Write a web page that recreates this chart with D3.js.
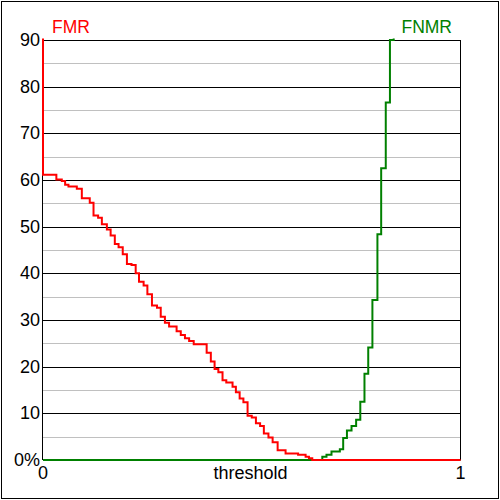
<!DOCTYPE html>
<html>
<head>
<meta charset="utf-8">
<script src="https://cdn.jsdelivr.net/npm/d3@7"></script>
<style>
body{margin:0;background:#fff;}
svg{display:block;font-family:Arial,"Liberation Sans",sans-serif;}
</style>
</head>
<body>
<svg id="chart" width="500" height="500"></svg>
<script>
// threshold / percent pairs
var fmr=[[0,100],[0,61.1],[0.032,60.1],[0.045,59.8],[0.053,59.0],[0.061,58.6],[0.081,58.1],
  [0.093,56.1],[0.112,55.1],[0.121,52.4],[0.132,51.9],[0.141,50.5],[0.153,49.4],[0.162,48.1],
  [0.172,46.3],[0.181,45.6],[0.191,44.1],[0.201,42.0],[0.212,41.8],[0.222,40.0],[0.230,38.2],
  [0.241,37.4],[0.250,35.5],[0.261,33.1],[0.273,32.6],[0.282,30.7],[0.292,29.4],[0.302,28.6],
  [0.320,27.6],[0.330,26.8],[0.340,26.1],[0.350,25.5],[0.361,24.8],[0.392,23.0],[0.402,21.1],
  [0.411,19.5],[0.420,18.8],[0.430,17.1],[0.439,16.6],[0.454,15.7],[0.462,14.5],[0.471,13.2],
  [0.480,12.4],[0.490,9.5],[0.500,9.1],[0.510,7.9],[0.520,7.3],[0.529,5.7],[0.540,4.8],
  [0.550,3.8],[0.562,2.1],[0.581,1.4],[0.611,1.1],[0.629,0.7],[0.637,0.4],[0.645,0],[1,0]];
var fnmr=[[0,0],[0.669,0.7],[0.679,1.1],[0.691,1.8],[0.711,2.3],[0.719,4.7],[0.728,6.3],
  [0.739,7.3],[0.750,8.6],[0.760,12.5],[0.770,18.5],[0.779,24.1],[0.789,34.3],[0.801,48.4],
  [0.810,62.5],[0.821,76.6],[0.831,90.0],[0.840,100]];
var majorTicks=[0,10,20,30,40,50,60,70,80,90];
var minorTicks=[5,15,25,35,45,55,65,75,85];
var xTicks=[0,1];

var svg=d3.select("#chart");
var L=43, R=460.5, T=40, B=460;
var x=d3.scaleLinear().domain([0,1]).range([L,R]);
var y=d3.scaleLinear().domain([0,90]).range([B,T]);

// outer frame
svg.append("rect").attr("x",1.5).attr("y",1.5).attr("width",497).attr("height",497)
  .attr("fill","none").attr("stroke","#000");

// grid
svg.selectAll(".minor").data(minorTicks).enter().append("line")
  .attr("x1",L).attr("x2",R).attr("y1",function(d){return Math.round(y(d))+0.5;})
  .attr("y2",function(d){return Math.round(y(d))+0.5;})
  .attr("stroke","#c0c0c0");
svg.selectAll(".major").data(majorTicks).enter().append("line")
  .attr("x1",L).attr("x2",R).attr("y1",function(d){return Math.round(y(d))+0.5;})
  .attr("y2",function(d){return Math.round(y(d))+0.5;})
  .attr("stroke","#000");
svg.append("line").attr("x1",R).attr("x2",R).attr("y1",T).attr("y2",B).attr("stroke","#000");
svg.append("line").attr("x1",L-0.5).attr("x2",L-0.5).attr("y1",T).attr("y2",B).attr("stroke","#000");

// tick labels
svg.selectAll(".yl").data(majorTicks).enter().append("text")
  .attr("x",40).attr("y",function(d){return y(d)+6;})
  .attr("text-anchor","end").attr("font-size","18px")
  .text(function(d){return d==0?"0%":d;});
svg.selectAll(".xl").data(xTicks).enter().append("text")
  .attr("x",function(d){return x(d);}).attr("y",479)
  .attr("text-anchor","middle").attr("font-size","18px")
  .text(function(d){return d;});
svg.append("text").attr("x",250.5).attr("y",479).attr("text-anchor","middle")
  .attr("font-size","18px").text("threshold");

svg.append("text").attr("x",52).attr("y",33).attr("font-size","17.5px").attr("fill","#ff0000").text("FMR");
svg.append("text").attr("x",452).attr("y",33).attr("text-anchor","end").attr("font-size","17.5px")
  .attr("fill","#008000").text("FNMR");

// curves
svg.append("clipPath").attr("id","clip").append("rect")
  .attr("x",L-2).attr("y",T-1.5).attr("width",R-L+4).attr("height",B-T+3);
var line=d3.line().x(function(d){return x(d[0]);}).y(function(d){return y(d[1]);})
  .curve(d3.curveStepAfter);
svg.append("path").datum(fnmr).attr("d",line).attr("clip-path","url(#clip)")
  .attr("fill","none").attr("stroke","#008000").attr("stroke-width",2);
svg.append("path").datum(fmr).attr("d",line).attr("clip-path","url(#clip)")
  .attr("fill","none").attr("stroke","#ff0000").attr("stroke-width",2);
</script>
</body>
</html>
